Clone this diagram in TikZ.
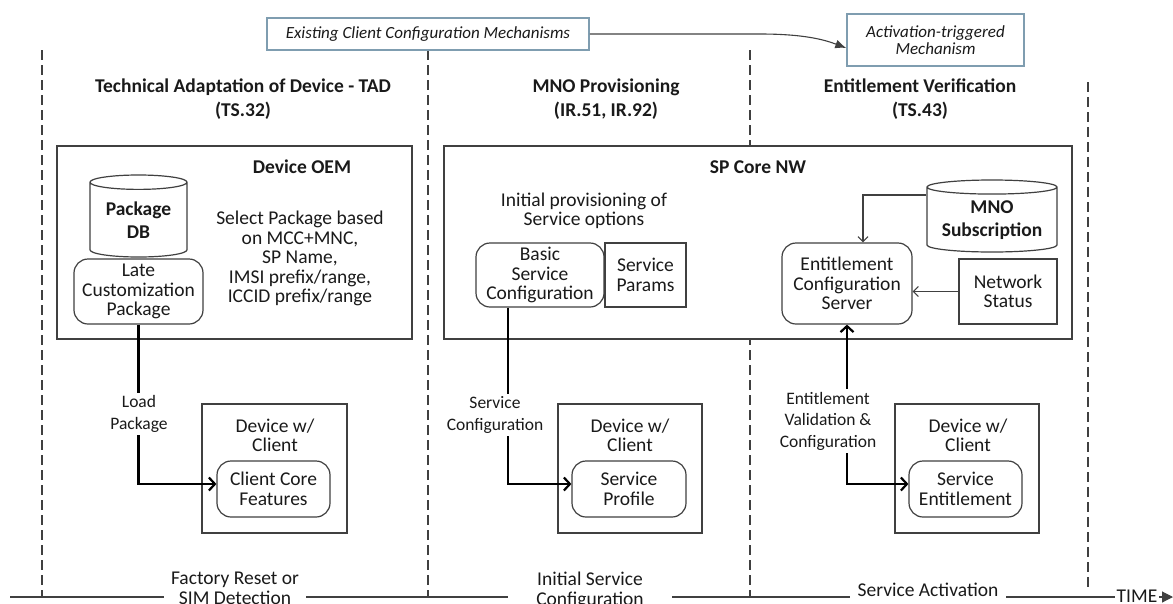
\documentclass[tikz,border=0pt]{standalone}
\usepackage{fontspec}
\setmainfont{Carlito}
\usepackage{tikz}
\usetikzlibrary{shapes.geometric,arrows.meta,calc}
\definecolor{linec}{HTML}{404040}
\definecolor{mechc}{HTML}{7F9DB0}
\definecolor{textc}{HTML}{1A1A1A}
\tikzset{
	box/.style={draw=linec, line width=1.2pt, fill=white, inner sep=0pt},
	rbox/.style={box, rounded corners=14pt},
	txt/.style={font=\fontsize{19.5}{19.5}\selectfont, align=center, text=textc},
	hdr/.style={font=\bfseries\fontsize{19.5}{23}\selectfont, align=center, text=textc},
	ttl/.style={font=\bfseries\fontsize{19.5}{24}\selectfont, align=center, text=textc},
	dbase/.style={box, cylinder, shape border rotate=90, anchor=shape center, hdr},
	mech/.style={draw=mechc, line width=1.5pt, fill=white, inner sep=0pt, font=\itshape\fontsize{17}{17}\selectfont, align=center, text=textc},
	lbl/.style={fill=white, inner sep=3pt, font=\fontsize{17.5}{21.5}\selectfont, align=center, text=textc},
	tlbl/.style={fill=white, inner ysep=2pt, font=\fontsize{19.5}{20}\selectfont, align=center, text=textc},
	phase/.style={draw=linec, dash pattern=on 10pt off 5pt, line width=1.3pt},
	flow/.style={draw=black, line width=2.2pt, -{Straight Barb[length=6pt,width=13pt]}},
	thinarr/.style={draw=linec, line width=1.1pt, -{Straight Barb[length=5pt,width=10pt]}},
	tline/.style={draw=linec, line width=1.1pt, -{Triangle[length=11pt,width=11pt]}}
}

\begin{document}
\begin{tikzpicture}[x=1pt,y=-1pt]
	%\draw[help lines] (0,0) grid (1173,603);
	\useasboundingbox (0,0) rectangle (1173,603);
	%PHASE LINES
	\draw[phase] (42,50) -- (42,597);
	\draw[phase] (428,50) -- (428,597);
	\draw[phase] (750,50) -- (750,597);
	\draw[phase] (1088,82) -- (1088,588);
	%MECHANISMS
	\node[mech, minimum width=322pt, minimum height=32pt] (exist) at (428,34) {Existing Client Configuration Mechanisms};
	\node[mech, minimum width=177pt, minimum height=52pt] (activ) at (935.5,40) {Activation-triggered\\Mechanism};
	\draw[draw=linec, line width=1.1pt, -{Latex[length=11pt,width=9pt]}] (exist.east) -- (760,34) .. controls (805,34) and (825,40) .. (activ.west |- 0,48);
	%PHASE TITLES
	\node[ttl] (tad) at (243,99) {Technical Adaptation of Device - TAD\\(TS.32)};
	\node[ttl] (mnop) at (606,99) {MNO Provisioning\\(IR.51, IR.92)};
	\node[ttl] (entv) at (920,99) {Entitlement Verification\\(TS.43)};
	%DEVICE OEM
	\node[box, minimum width=355pt, minimum height=193pt] (oem) at (234.5,242.5) {};
	\node[hdr] (oemt) at (302,167) {Device OEM};
	\node[dbase, aspect=0.22, minimum width=97pt, minimum height=82pt] (pkgdb) at (138.5,216) {Package\\DB};
	\node[rbox, txt, minimum width=129pt, minimum height=65pt] (late) at (138.5,291.5) {Late\\Customization\\Package};
	\node[txt] (select) at (300,258.5) {Select Package based\\on MCC+MNC,\\SP Name,\\IMSI prefix/range,\\ICCID prefix/range};
	%SP CORE NW
	\node[box, minimum width=628pt, minimum height=193pt] (core) at (758,242.5) {};
	\node[hdr] (coret) at (758,167) {SP Core NW};
	\node[txt] (initp) at (584,211) {Initial provisioning of\\Service options};
	\node[rbox, txt, minimum width=128pt, minimum height=64pt] (bsc) at (540,275) {Basic\\Service\\Configuration};
	\node[box, txt, minimum width=81pt, minimum height=64pt] (sparams) at (645.5,275) {Service\\Params};
	\node[dbase, aspect=0.14, minimum width=130pt, minimum height=72pt] (mno) at (992,216) {MNO\\Subscription};
	\node[rbox, txt, minimum width=130pt, minimum height=81pt] (ecs) at (847,283.5) {Entitlement\\Configuration\\Server};
	\node[box, txt, minimum width=98pt, minimum height=65pt] (nstat) at (1008,291.5) {Network\\Status};
	%DEVICES
	\node[box, minimum width=145pt, minimum height=129pt] (dev1) at (274.5,468.5) {};
	\node[txt] (dev1t) at (275,435.5) {Device w/\\Client};
	\node[rbox, txt, minimum width=113pt, minimum height=56pt] (ccf) at (273.5,489) {Client Core\\Features};
	\node[box, minimum width=144pt, minimum height=129pt] (dev2) at (630,468.5) {};
	\node[txt] (dev2t) at (630,435.5) {Device w/\\Client};
	\node[rbox, txt, minimum width=114pt, minimum height=56pt] (sprof) at (629,489) {Service\\Profile};
	\node[box, minimum width=144pt, minimum height=129pt] (dev3) at (967,468.5) {};
	\node[txt] (dev3t) at (968,435.5) {Device w/\\Client};
	\node[rbox, txt, minimum width=113pt, minimum height=56pt] (sent) at (965.5,489) {Service\\Entitlement};
	%CONNECTORS
	\draw[flow] (late.south) |- ($(ccf.west)+(0,-5)$);
	\node[lbl] (loadl) at (139,414) {Load\\Package};
	\draw[flow] (bsc.south -| 508,0) |- ($(sprof.west)+(0,-5)$);
	\node[lbl] (svcl) at (495,415) {Service\\Configuration};
	\draw[flow, {Straight Barb[length=6pt,width=13pt]}-{Straight Barb[length=6pt,width=13pt]}] (ecs.south) |- ($(sent.west)+(0,-5)$);
	\node[lbl] (entl) at (828,421) {Entitlement\\Validation \&\\Configuration};
	\draw[thinarr] (mno.west |- 0,195) -| (ecs.north -| 863,0);
	\draw[thinarr] (nstat.west) -- (nstat.west -| ecs.east);
	%TIMELINE
	\draw[tline] (10,597) -- (1173,597);
	\node[tlbl, inner xsep=7pt] (reset) at (235,588.5) {Factory Reset or\\SIM Detection};
	\node[tlbl, inner xsep=28pt] (initc) at (590,590.5) {Initial Service\\Configuration};
	\node[tlbl, inner xsep=8pt] (sact) at (928,589.5) {Service Activation};
	\node[tlbl, inner xsep=2pt, anchor=base] (time) at (1137,602.5) {TIME};
\end{tikzpicture}
\end{document}
